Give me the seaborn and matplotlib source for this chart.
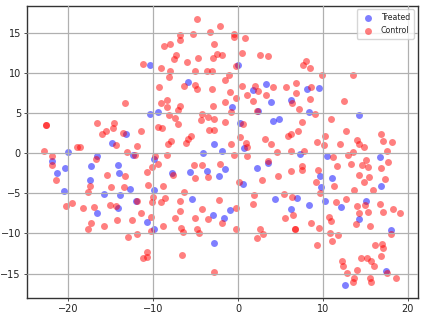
import matplotlib
matplotlib.use("Agg")
import matplotlib.pyplot as plt
import seaborn as sns
import pandas as pd

# values
treated_x = [-10.4, -5.9, -10.4, -9.5, -13.2, -14.9, -20.0, -16.6, -12.4, -4.1, -2.9, -9.9,
             0.0, 3.3, 1.8, 8.1, 9.5, 3.9, 6.2, -0.7, 2.4, 8.4, 14.3, 0.2, 4.8, 4.1,
             -1.9, 0.7, 7.3, 10.5, 16.7,
             -21.9, -21.4, -20.4, -17.4, -14.2, -14.1, -17.5, -20.5, -15.8, -13.9, -12.8,
             -9.9, -12.0, -14.2, -16.6, -10.8, -9.9, -7.85, -5.7, -3.7, -5.4, -3.0,
             3.5, -1.6, -2.2, 2.2, 0.6, 9.7, 11.1, 9.8, 16.8, 4.4, 6.95, 10.25, 15.1,
             8.4, 12.1, 6.2, -0.9, -1.65, 14.2, 18.0, -2.8, 17.4, 12.6]
treated_y = [11.0, 8.9, 4.9, 5.1, 2.4, 1.3, 0.2, -0.3, -0.2, 0.0, 1.1, -0.7,
             11.0, 8.6, 7.9, 8.0, 8.1, 6.4, 6.6, 5.7, 5.2, 5.1, 4.8, 3.8, 4.3, 4.0,
             0.25, 0.6, -0.05, -0.3, -0.45,
             -0.95, -2.5, -1.9, -1.6, -1.5, -2.5, -3.4, -4.7, -5.1, -5.2, -4.5,
             -4.6, -5.9, -6.8, -7.5, -8.6, -9.4, -2.45, -2.3, -2.2, -5.7, -7.7,
             -1.2, -1.95, -2.9, -1.9, -3.8, -2.8, -3.1, -4.2, -4.15, -5.7, -5.6, -6.0, -5.9,
             -6.5, -6.75, -7.0, -7.1, -8.1, -8.2, -9.6, -11.2, -14.65, -16.4]

control_x = [-4.9, -5.3, -3.3, -6.8, -6.8, -8.0, -8.7, -7.3, -7.6, -6.0, -4.7, -11.2, -9.1, -8.0,
             -8.2, -5.1, -3.7, -3.1, -9.3, -6.4, -5.1, -4.9, -3.1, -8.4, -9.1, -13.3, -8.4, -6.8,
             -7.1, -4.2, -8.2, -7.4, -4.4, -3.5, -7.1, -22.7, -22.7, -16.6, -14.6, -14.8, -15.6,
             -16.1, -13.6, -11.4, -9.4, -9.0, -3.4, -5.5, -5.9, -6.2, -7.9, -8.3, -14.4,
             -11.9, -18.7, -19.0, -22.9, -13.1, -12.2, -9.8, -8.4, -21.9, -16.8,
             -2.1, -0.5, -0.5, 0.8, -2.9, 0.5, -2.5, -1.9, -3.0, 2.6, 3.5, 8.0, 7.7, 8.5, -0.2,
             -1.1, -1.6, 9.9, 13.5, 6.8, 0.5, 2.0, 4.1, 5.6, 8.6, 2.3, 6.8, -1.0, 1.1, 3.3,
             -0.2, -1.6, 1.8, 8.5, 12.5, 6.4, -3.0, 7.2, -0.8, 2.2, 9.1, -2.8, -1.6, 10.9, 7.5,
             0.6, -2.9, 7.1, 12.7, 16.8, 6.2, 5.9, 10.2, 0.2, 3.2, 9.3, 14.0, 14.3, 17.1, 18.1,
             -0.8, 0.9, 3.9, 12.0, 1.1, 10.1, 14.9, 4.6, 6.2, 7.8, 13.6, 17.6, -0.5, 1.0, 11.2,
             13.0, 15.1,
             -22.0, -21.5, -15.4, -13.3, -10.7, -10.2, -9.5, -7.7, -5.2, -4.3, -5.1, -3.5,
             -10.6, -8.9, -17.5, -17.7, -15.0, -13.4, -6.4, -10.0, -8.6, -11.9, -10.2, -9.1,
             -6.9, -19.6, -20.3, -18.3, -17.0, -15.1, -14.4, -4.3, -6.9, -11.4, -10.3, -7.5,
             -5.1, -3.5, -14.3, -12.5, -17.3, -17.7, -15.8, -8.9, -6.7, -6.5, -4.8, -4.6,
             -10.3, -11.9, -13.0, -10.8, -10.8, -11.2, -6.6,
             -2.1, 3.5, 7.5, 7.5, 6.2, 4.75, 2.8, 0.1, 9.4, 11.6, 13.3, 14.6, 15.3, 16.8, 17.7,
             14.3, 15.4, 14.8, 17.3, 9.2, 11.3, 13.7, 15.9, 1.9, 5.4, 6.3, 9.7, -2.3, 1.7, 11.5,
             12.7, 14.0, 15.0, 16.7, -0.3, 17.1, 18.3, 19.1, 14.3, 15.3, 5.5, 6.5, 10.7, -1.9,
             8.6, 11.0, 13.9, 15.6, -0.2, 2.6, 9.5, 6.7, 6.75, 10.8, 11.8, 18.0, 2.9, 2.2, 11.1,
             9.3, 16.1, 17.0, 17.1, 16.8, 14.5, 15.2, 15.7, 12.2, 12.4, 16.0, 14.0, 12.8, 17.6,
             -2.8, 13.7, 15.5, 18.6, 13.5, 15.7]
control_y = [16.7, 14.9, 15.1, 14.7, 14.1, 13.6, 13.3, 12.2, 11.7, 11.3, 11.8, 11.1, 10.6, 10.2,
             9.5, 10.2, 10.3, 10.3, 8.3, 8.4, 8.5, 8.0, 8.0, 6.6, 6.3, 6.2, 5.8, 5.9,
             5.4, 4.9, 4.7, 4.4, 4.1, 4.5, 3.6, 3.5, 3.45, 3.7, 3.8, 3.1, 2.8,
             2.4, 2.5, 2.7, 3.3, 3.1, 2.9, 2.1, 1.8, 1.3, 1.5, 1.1, 1.0,
             0.9, 0.8, 0.75, 0.3, 0.2, -0.2, -0.3, -0.2, -0.4, -0.7,
             15.9, 14.8, 14.5, 14.3, 13.6, 12.5, 12.4, 12.2, 11.9, 12.2, 12.1, 11.5, 11.0, 10.6, 10.8,
             9.7, 9.1, 9.7, 9.7, 8.8, 8.4, 8.4, 8.3, 8.3, 8.3, 7.7, 7.5, 7.6, 7.3, 7.2,
             6.9, 6.4, 6.5, 6.7, 6.5, 6.2, 5.9, 5.5, 5.1, 5.2, 4.9, 4.3, 3.9, 4.3, 3.9,
             3.6, 2.9, 2.8, 2.7, 2.4, 2.4, 2.2, 2.2, 2.0, 1.8, 1.4, 1.6, 1.2, 1.5, 1.4,
             1.2, 1.3, 1.1, 1.1, 0.75, 1.0, 0.8, 0.2, 0.3, 0.3, 0.1, 0.25, -0.2, -0.4, -0.45,
             -0.2, -0.8,
             -1.5, -3.3, -2.7, -2.9, -2.4, -1.7, -1.4, -2.7, -1.5, -1.45, -3.1, -2.95,
             -4.0, -4.1, -4.1, -4.8, -4.2, -4.2, -4.9, -5.5, -5.6, -6.0, -6.1, -6.1,
             -6.0, -6.2, -6.6, -6.8, -6.7, -6.4, -6.6, -6.9, -7.2, -7.4, -8.0, -8.1,
             -8.1, -8.2, -8.3, -8.3, -8.75, -9.5, -9.1, -9.1, -9.3, -9.8, -9.4, -10.0,
             -9.7, -10.1, -10.5, -12.3, -12.9, -13.1, -12.7,
             -1.3, -1.0, -1.65, -2.1, -2.2, -2.85, -3.3, -3.6, -2.1, -1.65, -1.3, -1.45, -1.75, -1.9, -1.1,
             -2.7, -3.0, -3.65, -3.2, -3.65, -4.1, -4.55, -4.65, -5.2, -5.15, -5.5, -5.0, -5.85, -6.3, -6.1,
             -5.7, -6.6, -6.5, -6.35, -6.85, -7.3, -6.9, -7.5, -7.5, -7.3, -8.05, -7.7, -7.9, -8.75,
             -8.7, -8.5, -8.8, -9.1, -9.4, -9.4, -9.35, -9.4, -9.5, -10.0, -10.2, -10.1, -10.1, -10.6, -10.95,
             -11.4, -11.5, -11.3, -11.8, -12.8, -13.1, -13.1, -13.4, -13.4, -14.0, -14.1, -14.5, -14.9, -14.9,
             -14.8, -15.5, -15.6, -15.6, -16.1, -16.05]

treated = pd.DataFrame({"x": treated_x, "y": treated_y})
control = pd.DataFrame({"x": control_x, "y": control_y})

sns.set_style("whitegrid", {"axes.edgecolor": "#333333", "grid.color": "#b0b0b0"})

fig, ax = plt.subplots(figsize=(4.23, 3.16), dpi=100)
sns.scatterplot(data=treated, x="x", y="y", color="blue", alpha=0.5, s=25, linewidth=0, label="Treated", ax=ax)
sns.scatterplot(data=control, x="x", y="y", color="red", alpha=0.5, s=25, linewidth=0, label="Control", ax=ax)

ax.set_xlim(-24.95, 21.15)
ax.set_ylim(-18.05, 18.4)
ax.set_xticks([-20, -10, 0, 10, 20])
ax.set_yticks([-15, -10, -5, 0, 5, 10, 15])
ax.set_xlabel("")
ax.set_ylabel("")
# grid sits on top of the dots in the reference
ax.set_axisbelow(False)
ax.grid(True, linewidth=0.9)
ax.tick_params(labelsize=7, length=2, width=0.6, pad=2, bottom=True, left=True, color="#333333", labelcolor="#222222")
for s in ax.spines.values():
    s.set_linewidth(1.0)

ax.legend(loc="upper right", fontsize=5.7, frameon=True, borderaxespad=0.5, labelspacing=0.55,
          handletextpad=0.6, borderpad=0.45)

fig.subplots_adjust(left=26.5 / 423, right=417.5 / 423, top=1 - 5.5 / 316, bottom=1 - 298 / 316)
fig.savefig("out.png", dpi=100)
